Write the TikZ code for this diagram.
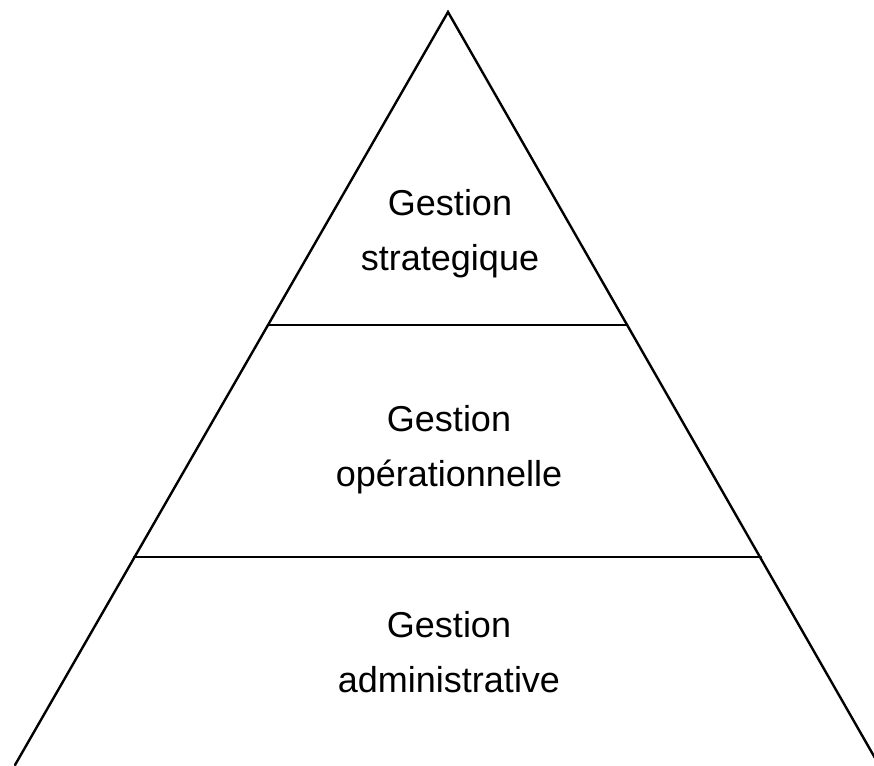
\documentclass[tikz,border=0pt]{standalone}
\usepackage{fontspec}
\setmainfont{Liberation Sans}
\begin{document}
\begin{tikzpicture}[x=0.75pt,y=-0.75pt,
  edge/.style={line width=1.8pt,black,line cap=round},
  label/.style={font=\fontsize{27}{41}\selectfont,align=center,anchor=base,inner sep=0pt}]
  \useasboundingbox (0,0) rectangle (874,765);
  \clip (0,0) rectangle (874,765);
  % pyramid outline
  \coordinate (apex) at (448,12);
  \coordinate (bl) at (15,765);
  \coordinate (br) at (879,765);
  \coordinate (l1a) at (268,325);
  \coordinate (l1b) at (627,325);
  \coordinate (l2a) at (134,557);
  \coordinate (l2b) at (761,557);
  \draw[edge] (bl) -- (apex) -- (br);
  \draw[edge] (l1a) -- (l1b);
  \draw[edge] (l2a) -- (l2b);
  % level labels (anchored on the baseline of the second line)
  \node[label] (top) at (450,270) {Gestion\\strategique};
  \node[label] (mid) at (449,486) {Gestion\\opérationnelle};
  \node[label] (low) at (449,692) {Gestion\\administrative};
\end{tikzpicture}
\end{document}
